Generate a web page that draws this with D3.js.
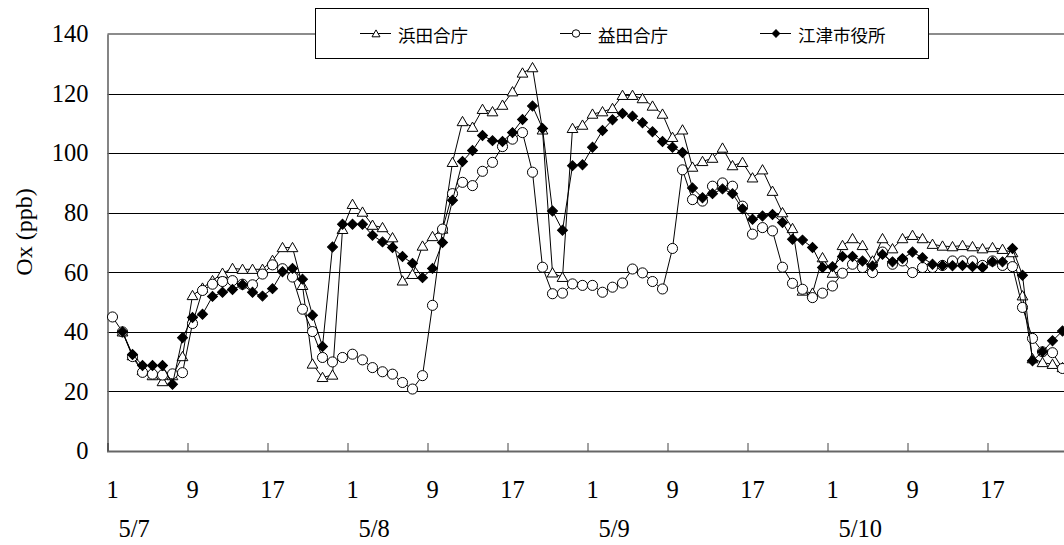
<!DOCTYPE html>
<html><head><meta charset="utf-8">
<script src="https://cdn.jsdelivr.net/npm/d3@7"></script>
<style>html,body{margin:0;padding:0;background:#fff;overflow:hidden}</style>
</head><body>
<svg id="c" width="1064" height="545"></svg>
<script>
const seriesNames = ["浜田合庁", "益田合庁", "江津市役所"];
const dayLabels = ["5/7", "5/8", "5/9", "5/10"];
const hourTickLabels = ["1", "9", "17"];
const yTicks = [0, 20, 40, 60, 80, 100, 120, 140];

const hamada = [null,40,32,27,25.3,23.3,25.3,31.7,52.2,54.7,57.2,59.7,61.3,61,61,61,
 64,68.3,68.3,55.6,29.2,24.7,25.5,74.4,82.8,80.2,75.8,75,71.6,57.1,59.3,68.8,
 72,74.5,96.9,110.6,108.7,114.7,113.9,116.1,120.6,126.9,128.7,107.8,59.8,58.3,108.3,109.4,
 113.1,113.9,115,119.4,119.4,118.3,115.8,113.1,105.3,107.8,95.3,97.2,98.3,101.7,95.8,96.9,
 91.7,94.4,87.2,80,74.7,53.7,53,64.9,59.7,69,71.3,69,63.8,71.3,67.9,71.3,
 72.4,71.3,69.4,68.8,68.6,69,68.6,67.9,68.3,67.7,66.6,52.1,31,29.7,29.1,28];

const masuda = [45,40,31.7,26.4,25.8,25.5,25.9,26.3,42.8,53.9,56,56.9,57.2,56,55.8,59.4,
 62.5,61.2,58.4,47.6,40.1,31.4,29.9,31.4,32.5,30.6,28,26.6,25.8,23,20.8,25.3,
 48.9,74.5,86.4,90.2,89.1,93.9,96.9,102.2,104.7,106.9,93.6,61.7,52.8,53,56.1,55.6,
 55.6,53.3,55,56.4,61.1,59.8,56.9,54.4,68,94.4,84.4,83.9,88.9,90,88.9,82.2,
 72.8,75,73.9,61.7,56.3,54.3,51.5,53,55.4,59.7,62.7,61.6,59.9,66.8,62.7,63.8,
 59.9,61.6,61.6,62.3,63.8,63.8,63.8,62.3,63.8,62.3,61.9,48.2,37.8,33.3,33,27.7];

const gotsu = [null,40,32.4,28.7,28.7,28.7,22.4,38,44.8,45.9,51.9,53.3,54.2,55.8,53.3,52,
 54.5,60.2,61.3,57.7,45.6,35.1,68.5,76.1,76.1,76.1,72.4,70.2,68.3,65.3,63,58.2,
 61.3,70,84.2,97.2,100.9,105.9,104.2,103.9,106.9,111.3,115.8,108.3,80.6,74.1,95.8,96.1,
 102,107.6,111.2,113.3,112.4,110.2,107.2,103.9,102,100.2,88.3,85,86.4,88,86.4,81.3,
 77.8,78.9,79.4,76.7,71.1,70.8,68.3,61.6,61.9,65.3,65.3,63.8,62.1,66,63.5,64.6,
 66.8,64.9,62.7,62.3,62.2,62.3,61.9,61.6,63.5,63.5,68,59,30.3,33.3,37,40.3];

const HOURS_PER_DAY = 24;
const nPoints = hamada.length;

const svg = d3.select("#c");
const serif = "Liberation Serif";
const cjk = "Noto Sans CJK JP";
const FS = 24.5;

const x = d3.scaleLinear().domain([-0.5, nPoints - 0.5]).range([107.5, 1067.5]);
const y = d3.scaleLinear().domain([0, 140]).range([451, 34]);

// gridlines
svg.append("g").selectAll("line").data(yTicks.filter(v => v > 0 && v < 140)).join("line")
  .attr("x1", x(-0.5)).attr("x2", 1064)
  .attr("y1", d => Math.round(y(d)) + 0.5).attr("y2", d => Math.round(y(d)) + 0.5)
  .attr("stroke", "#000").attr("stroke-width", 1);

// top border
svg.append("line").attr("x1", x(-0.5)).attr("x2", 1064).attr("y1", y(140)).attr("y2", y(140))
  .attr("stroke", "#666").attr("stroke-width", 1.3);

// y axis
const yAxis = d3.axisLeft(y).tickValues(yTicks).tickSize(0).tickPadding(19).tickFormat(d3.format("d"));
const gy = svg.append("g").attr("transform", `translate(${x(-0.5)},0)`).call(yAxis);
gy.attr("font-family", null).attr("font-size", null);
gy.select(".domain").attr("stroke", "#666").attr("stroke-width", 1.6);
gy.selectAll("text").attr("fill", "#000").style("font-family", serif).style("font-size", FS + "px");

// x axis
const tickIdx = d3.range(0, nPoints, 8);
const xAxis = d3.axisBottom(x).tickValues(tickIdx.map(i => i - 0.5)).tickSize(-8).tickFormat("");
const gx = svg.append("g").attr("transform", `translate(0,${y(0)})`).call(xAxis);
gx.select(".domain").attr("stroke", "#666").attr("stroke-width", 2);
gx.selectAll(".tick line").attr("stroke", "#444").attr("stroke-width", 1);

// hour labels
svg.append("g").selectAll("text").data(tickIdx).join("text")
  .style("font-family", serif).style("font-size", FS + "px")
  .attr("x", i => x(i)).attr("y", 498).attr("text-anchor", "middle")
  .text(i => hourTickLabels[(i % HOURS_PER_DAY) / 8]);

// day labels
svg.append("g").selectAll("text").data(dayLabels).join("text")
  .style("font-family", serif).style("font-size", FS + "px")
  .attr("x", (d, k) => x(k * HOURS_PER_DAY) + 6).attr("y", 537).text(d => d);

// y title
svg.append("text").attr("transform", "translate(24,232) rotate(-90)")
  .attr("text-anchor", "middle").attr("dominant-baseline", "central")
  .style("font-family", serif).style("font-size", "24px").text("Ox (ppb)");

// series
const line = d3.line().defined(d => d != null).x((d, i) => x(i)).y(d => y(d));
const sym = [d3.symbolTriangle, d3.symbolCircle, d3.symbolSquare];
const symSize = [50, 80, 50];
const rot = [0, 0, 45];
const dy = [1, 0, 0];
const fills = ["#fff", "#fff", "#000"];
const allSeries = [hamada, masuda, gotsu];

allSeries.forEach((data, s) => {
  const g = svg.append("g");
  g.append("path").attr("d", line(data)).attr("fill", "none").attr("stroke", "#000").attr("stroke-width", 1);
  g.selectAll("path.m").data(data.map((v, i) => ({v, i})).filter(d => d.v != null)).join("path")
    .attr("class", "m")
    .attr("transform", d => `translate(${x(d.i)},${y(d.v) + dy[s]}) rotate(${rot[s]})`)
    .attr("d", d3.symbol().type(sym[s]).size(symSize[s]))
    .attr("fill", fills[s]).attr("stroke", "#000").attr("stroke-width", 1);
});

// legend
const lg = svg.append("g");
lg.append("rect").attr("x", 315.5).attr("y", 8.5).attr("width", 613).attr("height", 50)
  .attr("fill", "#fff").attr("stroke", "#000").attr("stroke-width", 1);
const legX = [360, 560, 760];
seriesNames.forEach((name, s) => {
  const lx = legX[s];
  lg.append("line").attr("x1", lx).attr("x2", lx + 31).attr("y1", 33.5).attr("y2", 33.5)
    .attr("stroke", "#000").attr("stroke-width", 1);
  lg.append("path").attr("transform", `translate(${lx + 16},${33.5 + dy[s]}) rotate(${rot[s]})`)
    .attr("d", d3.symbol().type(sym[s]).size(symSize[s] * 0.55))
    .attr("fill", fills[s]).attr("stroke", "#000").attr("stroke-width", 1);
  lg.append("text").attr("x", lx + 38).attr("y", 34).attr("dominant-baseline", "central")
    .style("font-family", cjk).style("font-size", "17.5px").text(name);
});
</script>
</body></html>
